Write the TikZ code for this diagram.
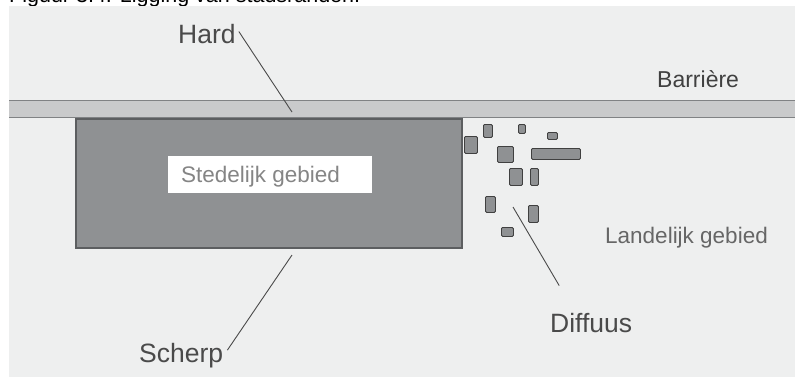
\documentclass[tikz,border=0pt]{standalone}
\usepackage{fontspec}
\setmainfont{Liberation Sans}
\definecolor{panel}{HTML}{EEEFEF}
\definecolor{barfill}{HTML}{C9CACB}
\definecolor{barline}{HTML}{808284}
\definecolor{cityfill}{HTML}{8F9193}
\definecolor{cityline}{HTML}{5C5E60}
\definecolor{lbl}{HTML}{4A4A4A}
\definecolor{lbllight}{HTML}{666666}
\begin{document}
\begin{tikzpicture}[x=1pt,y=-1pt,
  lead/.style={draw=lbl,line width=0.9pt},
  bigtext/.style={inner sep=0,anchor=base west,text=lbl,font=\fontsize{26.5}{28}\selectfont},
  midtext/.style={inner sep=0,anchor=base west,font=\fontsize{22.5}{24}\selectfont},
  house/.style={draw=black!75,fill=cityfill,line width=0.9pt,rounded corners=1.2pt}]
\useasboundingbox (0,0) rectangle (795,378);
\clip (0,0) rectangle (795,378);
% title (cut off at the top, as in the source)
\node[midtext,text=black,font=\fontsize{21.5}{23}\selectfont] (title) at (9,2.8) {Figuur 3.4: Ligging van stadsranden.};
% panel
\fill[panel] (9,6) rectangle (795,377);
% barrier band
\fill[barfill] (9,100) rectangle (796,117.5);
\draw[barline,line width=1.6pt] (9,100.5) -- (796,100.5);
\draw[barline,line width=1.6pt] (9,117.5) -- (796,117.5);
% city
\node[draw=cityline,fill=cityfill,line width=1.6pt,inner sep=0,minimum width=386pt,minimum height=129pt,anchor=north west] (city) at (75,118) {};
\node[fill=white,inner sep=0,minimum width=204pt,minimum height=37pt,anchor=north west] (cbox) at (168,156) {};
\node[midtext,text=lbllight!80!white] (stedelijk) at (181,182) {Stedelijk gebied};
% scattered houses
\node[house,minimum width=13pt,minimum height=17pt,inner sep=0,anchor=north west] (h1) at (464,136) {};
\node[house,minimum width=9pt,minimum height=13pt,inner sep=0,anchor=north west] (h2) at (483,124) {};
\node[house,minimum width=7pt,minimum height=9pt,inner sep=0,anchor=north west] (h3) at (518,124) {};
\node[house,minimum width=10pt,minimum height=7pt,inner sep=0,anchor=north west] (h4) at (547,132) {};
\node[house,minimum width=16pt,minimum height=16pt,inner sep=0,anchor=north west] (h5) at (497,146) {};
\node[house,minimum width=49pt,minimum height=11pt,inner sep=0,anchor=north west] (h6) at (531,148) {};
\node[house,minimum width=13pt,minimum height=17pt,inner sep=0,anchor=north west] (h7) at (509,168) {};
\node[house,minimum width=8pt,minimum height=17pt,inner sep=0,anchor=north west] (h8) at (530,168) {};
\node[house,minimum width=10pt,minimum height=16pt,inner sep=0,anchor=north west] (h9) at (485,196) {};
\node[house,minimum width=10pt,minimum height=17pt,inner sep=0,anchor=north west] (h10) at (528,205) {};
\node[house,minimum width=12pt,minimum height=9pt,inner sep=0,anchor=north west] (h11) at (501,227) {};
% labels
\node[bigtext] (hard) at (178,43) {Hard};
\node[bigtext] (scherp) at (139,362) {Scherp};
\node[bigtext] (diffuus) at (550,332) {Diffuus};
\node[midtext,text=black!75,font=\fontsize{23}{25}\selectfont] (barriere) at (657,87) {Barrière};
\node[midtext,text=lbllight] (landelijk) at (605,243) {Landelijk gebied};
% leader lines
\coordinate (hardend) at (292,112);
\coordinate (scherpend) at (292,255);
\coordinate (diffend) at (513,207);
\draw[lead] (hard.east) ++(3,-2) coordinate (hs) (hs) -- (hardend);
\draw[lead] (scherp.east) ++(4,-5) coordinate (ss) (ss) -- (scherpend);
\draw[lead] (diffuus.north) ++(-32,-27) coordinate (ds) (ds) -- (diffend);
\end{tikzpicture}
\end{document}
